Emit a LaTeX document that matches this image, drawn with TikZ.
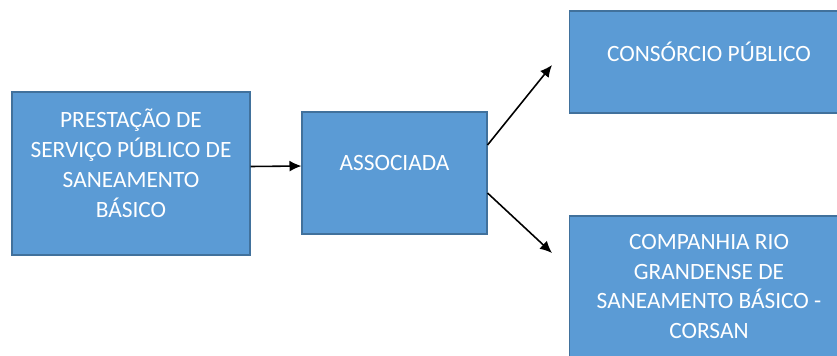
\documentclass[tikz,border=0pt]{standalone}
\usepackage{fontspec}
\setmainfont{Carlito}
\usetikzlibrary{arrows.meta, positioning, calc}
\definecolor{cfill}{HTML}{5B9BD5}
\definecolor{cedge}{HTML}{41719C}
\tikzset{
  every picture/.style={font=\fontsize{13.3}{17}\selectfont, line width=0.6pt},
  box/.style={draw=cedge, fill=cfill, inner sep=0pt},
  lbl/.style={text=white, align=center, yshift=0.2cm},
  arrow/.style={-{Latex[length=2.4mm, width=2.2mm]}, draw=black, line width=0.9pt},
}
\begin{document}
\begin{tikzpicture}[x=0.02cm, y=-0.02cm]
  \clip (0,0) rectangle (837,355);
  \node[box, minimum width=4.76cm, minimum height=3.26cm,
    label={[lbl]center:PRESTAÇÃO DE\\SERVIÇO PÚBLICO DE\\SANEAMENTO\\BÁSICO}] (prestacao) at (131,173.5) {};
  \node[box, minimum width=3.7cm, minimum height=2.44cm,
    label={[lbl]center:ASSOCIADA}] (associada) at (394.5,173) {};
  \node[box, minimum width=5.58cm, minimum height=2.04cm,
    label={[lbl]center:CONSÓRCIO PÚBLICO}] (consorcio) at (709,62) {};
  \node[box, minimum width=5.58cm, minimum height=3.22cm,
    label={[lbl]center:COMPANHIA RIO\\GRANDENSE DE\\SANEAMENTO BÁSICO -\\CORSAN}] (corsan) at (709,296.5) {};
  \coordinate (tipup) at (552,65);
  \coordinate (tipdown) at (552,253);
  \draw[arrow] ([yshift=0.14cm]prestacao.east) -- ([yshift=0.14cm]associada.west);
  \draw[arrow] ([yshift=0.56cm]associada.east) -- (tipup);
  \draw[arrow] ([yshift=-0.4cm]associada.east) -- (tipdown);
\end{tikzpicture}
\end{document}
